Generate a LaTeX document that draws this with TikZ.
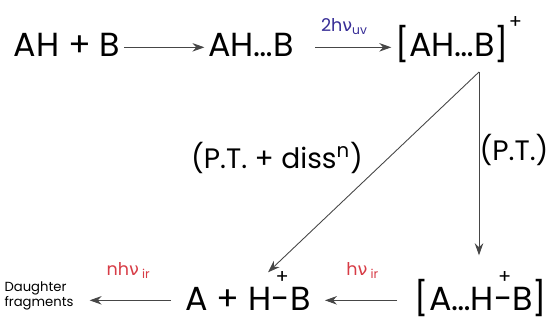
\documentclass[tikz,border=0pt]{standalone}
\usepackage{fontspec}
\setmainfont{Poppins}
\newfontfamily\grk{DejaVu Sans}
\usetikzlibrary{arrows.meta, positioning, calc}
\definecolor{uvBlue}{RGB}{55,45,150}
\definecolor{irRed}{RGB}{215,60,70}
\definecolor{lineGray}{RGB}{70,70,70}
\newcommand{\upplus}{\makebox[0pt][l]{\hspace{0.12em}\smash{\raisebox{0.78em}{\fontsize{11}{11}\selectfont +}}}}

\begin{document}
\begin{tikzpicture}[x=0.02cm, y=-0.02cm,
    species/.style={anchor=base, inner xsep=2pt, inner ysep=1pt, text height=14pt, text depth=3pt, font=\fontsize{19}{21}\selectfont},
    cond/.style={inner sep=2pt, font=\fontsize{16}{18}\selectfont},
    photon/.style={inner sep=1pt, font=\fontsize{10}{12}\selectfont},
    small/.style={inner sep=1pt, align=left, font=\fontsize{7.5}{8.5}\selectfont},
    arr/.style={-{Stealth[length=2.4mm, width=1.7mm]}, lineGray, line width=0.5pt}
  ]
    \useasboundingbox (0,0) rectangle (547,320);

    \node[species] (pair) at (67,57) {AH + B};
    \node[species] (cplx) at (251,57) {AH…B};
    \node[species] (ion) at (452,57) {[AH…B]\rlap{\smash{\raisebox{0.85em}{\fontsize{11}{11}\selectfont +}}}};
    \node[species] (ionpt) at (481,310) {[A…H\upplus-B]};
    \node[species] (prod) at (248,310) {A + H\upplus-B};
    \node[small] (frag) at (39,296) {Daughter\\fragments};
    \coordinate (apex) at (479,72);

    \node[cond] (ptdiss) at (277,158) {(P.T. + diss\textsuperscript{n})};
    \node[cond] (pt) at (514,150) {(P.T.)};

    \draw[arr] (pair) -- (cplx);
    \draw[arr, shorten <=10pt] (cplx) -- (ion) node[photon, midway, above=6pt, text=uvBlue] {2h{\grk ν}\textsubscript{uv}};
    \draw[arr] (apex) -- ($(prod.north)+(20,-11)$);
    \draw[arr] (apex) -- ($(apex |- ionpt.north)+(0,-28)$);
    \draw[arr, shorten <=8pt, shorten >=6pt] (ionpt) -- (prod) node[photon, midway, above=11pt, text=irRed] {h{\grk ν}\textsubscript{ ir}};
    \draw[arr, shorten <=6pt, shorten >=8pt] (prod) -- (prod -| frag.east) node[photon, midway, above=11pt, text=irRed] {nh{\grk ν}\textsubscript{ ir}};
  \end{tikzpicture}
\end{document}
